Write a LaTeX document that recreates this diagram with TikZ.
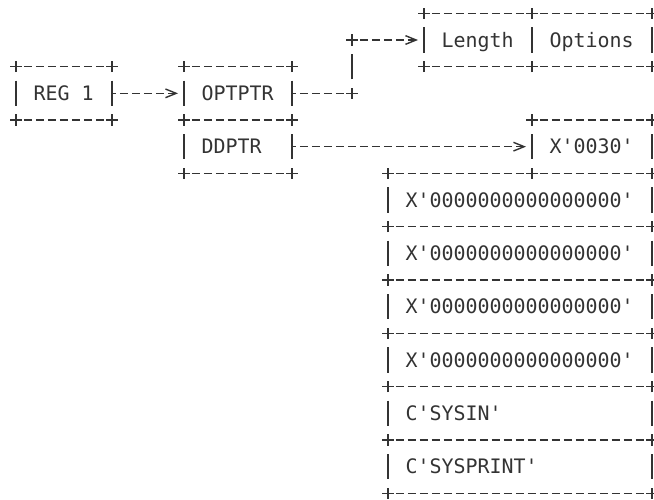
\documentclass[tikz,border=0pt]{standalone}
\usepackage{fontspec}
\setmonofont{DejaVu Sans Mono}
\usetikzlibrary{positioning,arrows.meta,shapes.misc}
\definecolor{ink}{HTML}{333333}
\def\colw{9pt}

\begin{document}
\begin{tikzpicture}[color=ink, draw=ink, line width=1.05pt]
    \tikzset{cell/.style={text width=#1*\colw+0.5pt, inner xsep=13.25pt,
        inner ysep=0pt, outer sep=0pt, minimum height=40pt, text height=10.9pt,
        text depth=0pt, font=\ttfamily\fontsize{14.95pt}{18pt}\selectfont,
        execute at begin node={\spaceskip=9pt\relax}}}
    \tikzstyle{dashline}=[dash pattern=on 6.2pt off 2.8pt, dash phase=3.1pt]
    \tikzstyle{bar}=[dash pattern=on 19pt off 21pt, dash phase=29.5pt]
    \tikzstyle{link}=[dashline, -{Straight Barb[length=8pt,width=6.5pt]}, shorten >=4.5pt]
    \tikzstyle{joint}=[draw, cross out, rotate=45, minimum size=4.8pt, inner sep=0pt]

    \useasboundingbox (0,0) rectangle (490.5pt,-375pt);

    % Draw the register and the pointer pair
    \node[cell=5, anchor=north west] (reg) at (12pt,-50pt) {REG 1};
    \node[cell=6, right=54pt of reg] (opt) {OPTPTR};
    \node[cell=6, below=0pt of opt] (dd) {DDPTR};

    % Draw the option list
    \node[cell=6, anchor=north west] (len) at (318pt,-10pt) {Length};
    \node[cell=7, right=0pt of len] (opts) {Options};

    % Draw the data area
    \node[cell=7, below=40pt of opts] (val) {X'0030'};
    \node[cell=19, anchor=north east] (S-1) at (val.south east) {X'0000000000000000'};
    \foreach \i/\txt in {2/X'0000000000000000', 3/X'0000000000000000',
                         4/X'0000000000000000', 5/C'SYSIN', 6/C'SYSPRINT'} {
        \pgfmathtruncatemacro\j{\i-1}
        \node[cell=19, below=0pt of S-\j] (S-\i) {\txt};
    }

    % Box outlines, dashes across, bars down, plus at the corners
    \foreach \n in {reg,opt,dd,len,opts,val,S-1,S-2,S-3,S-4,S-5,S-6} {
        \draw[dashline] (\n.north west) -- (\n.north east) (\n.south west) -- (\n.south east);
        \draw[bar] (\n.north west) -- (\n.south west) (\n.north east) -- (\n.south east);
        \foreach \c in {north west,north east,south west,south east}
            \node[joint] at (\n.\c) {};
    }

    % Connect the pointers
    \coordinate[right=45pt of opt] (turn-a);
    \coordinate[above=40pt of turn-a] (turn-b);
    \draw[link] (reg) -- (opt);
    \draw[dashline] (opt) -- (turn-a);
    \draw[bar] (turn-a) -- (turn-b);
    \draw[link] (turn-b) -- (len);
    \node[joint] at (turn-a) {};
    \node[joint] at (turn-b) {};
    \draw[link] (dd) -- (val);
\end{tikzpicture}
\end{document}
